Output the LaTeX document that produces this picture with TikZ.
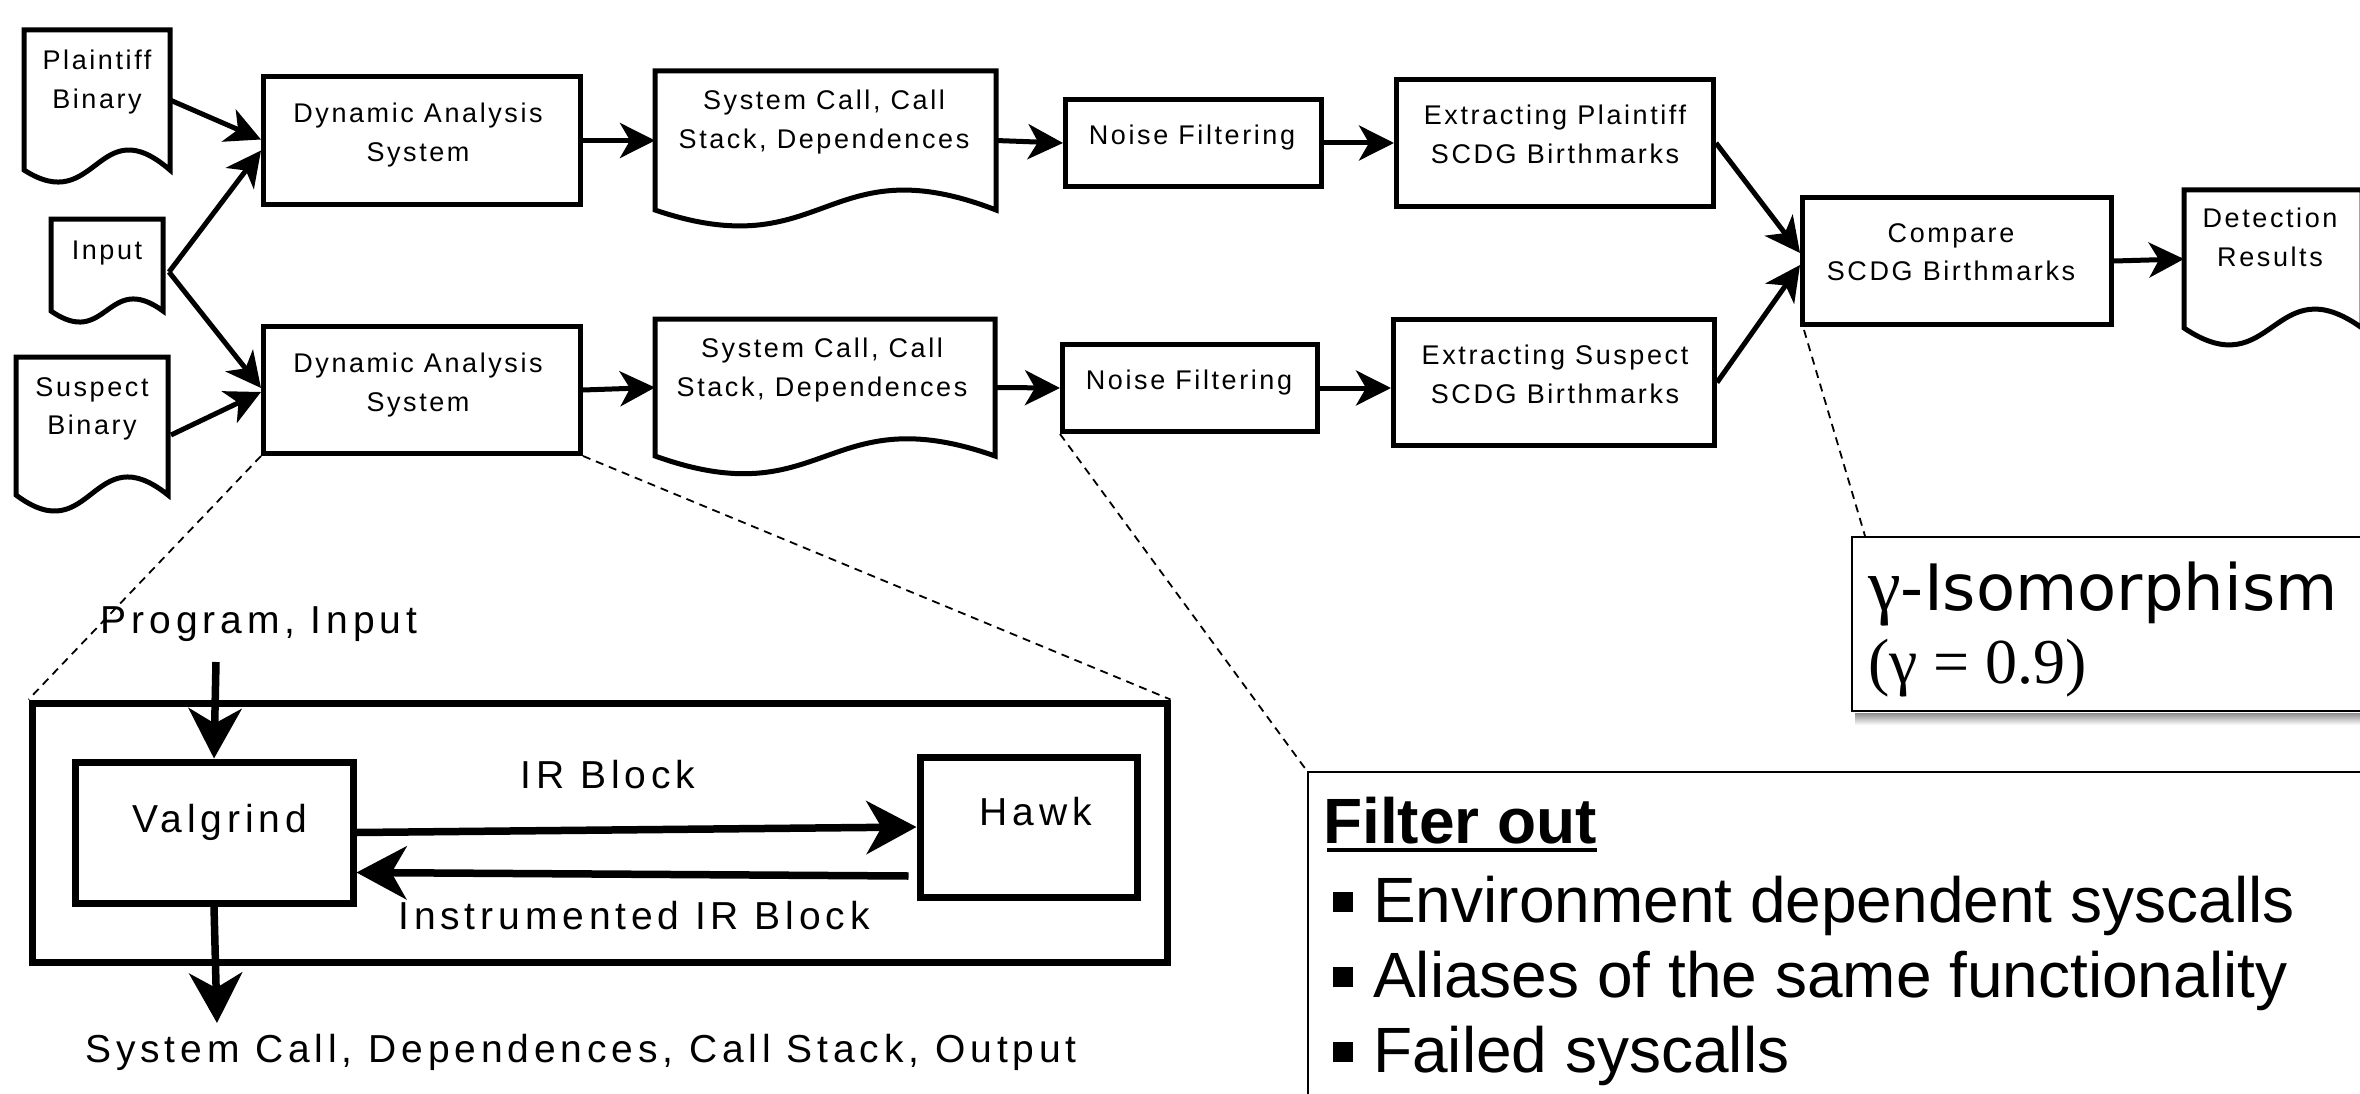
\documentclass[tikz,border=0pt]{standalone}
\usepackage{fontspec}
\setmainfont{Liberation Sans}
\newfontfamily\boxfont[LetterSpace=9.6]{Liberation Sans}
\newfontfamily\lowfont[LetterSpace=12.5]{Liberation Sans}
\newfontfamily\notefont{Liberation Sans}
\newfontfamily\isofont{DejaVu Sans}
\newfontfamily\greekfont{Liberation Serif}
\usetikzlibrary{arrows.meta,calc}

\tikzset{
  boxstyle/.style={draw, line width=5pt, inner sep=0pt},
  docnode/.style={inner sep=0pt, outer sep=0pt},
  docline/.style={draw, line width=5pt, line join=miter},
  boxtext/.style={font=\boxfont\fontsize{27}{38.5}\selectfont, align=center, anchor=north, inner sep=0pt},
  flow/.style={line width=5pt, -{Stealth[length=35pt,width=35pt,inset=10pt]}},
  lowbox/.style={draw, line width=7pt, inner sep=0pt},
  lowtext/.style={font=\lowfont\fontsize{39}{46}\selectfont, anchor=base, inner sep=0pt},
  lowflow/.style={line width=7.5pt, -{Stealth[length=50pt,width=53pt,inset=15pt]}},
  zoomline/.style={line width=1.8pt, dash pattern=on 8pt off 6pt},
  notebox/.style={draw, line width=2pt, fill=white, inner sep=0pt},
  notetext/.style={font=\notefont\fontsize{64}{75}\selectfont, anchor=base west, inner sep=0pt},
}

% outline of a document symbol: straight top and sides, wavy bottom
\newcommand\docoutline[3]{%
  \draw[docline] (#1.north west) -- (#1.north east) -- (#1.south east)
    .. controls ($(#1.south)+(0,#2)$) and ($(#1.south)+(0,#3)$) .. (#1.south west) -- cycle;}
% square list bullet followed by the item indent
\newcommand\sqbullet{\makebox[50pt][l]{\hspace{10pt}\rule[10pt]{20pt}{20pt}}}

\begin{document}
\begin{tikzpicture}[x=1pt, y=-1pt]
\path[use as bounding box, fill=white] (0,0) rectangle (2360,1094);

% ---------- documents ----------
\node[docnode, minimum width=146pt, minimum height=140pt] (pb)  at (97,100) {};
\node[docnode, minimum width=112pt, minimum height=92pt]  (inp) at (107,265) {};
\node[docnode, minimum width=152pt, minimum height=138pt] (sb)  at (92,426) {};
\node[docnode, minimum width=341pt, minimum height=139pt] (sc1) at (825.5,140.5) {};
\node[docnode, minimum width=340pt, minimum height=137pt] (sc2) at (825,387.5) {};
\node[docnode, minimum width=178pt, minimum height=138pt] (det) at (2273,259) {};
\docoutline{pb}{-63}{47}
\docoutline{inp}{-41}{39}
\docoutline{sb}{-61}{57}
\docoutline{sc1}{-66}{58}
\docoutline{sc2}{-60}{61}
\docoutline{det}{-64}{60}

\node[boxtext] (pb-t)  at (97,50)   {Plaintiff\\Binary};
\node[boxtext] (inp-t) at (107,241) {Input};
\node[boxtext] (sb-t)  at (92,377)  {Suspect\\Binary};
\node[boxtext] (sc1-t) at (824,90)  {System Call, Call\\Stack, Dependences};
\node[boxtext] (sc2-t) at (822,338) {System Call, Call\\Stack, Dependences};
\node[boxtext] (det-t) at (2270,208) {Detection\\Results};

% ---------- process boxes ----------
\node[boxstyle, minimum width=317pt, minimum height=128pt] (das1) at (422,140.5) {};
\node[boxstyle, minimum width=317pt, minimum height=127pt] (das2) at (422,390) {};
\node[boxstyle, minimum width=256pt, minimum height=87pt]  (nf1)  at (1193.5,143) {};
\node[boxstyle, minimum width=255pt, minimum height=87pt]  (nf2)  at (1190,388) {};
\node[boxstyle, minimum width=317pt, minimum height=127pt] (ex1)  at (1555,143) {};
\node[boxstyle, minimum width=321pt, minimum height=126pt] (ex2)  at (1554,382.5) {};
\node[boxstyle, minimum width=309pt, minimum height=127pt] (cmp)  at (1957,261) {};

\node[boxtext] (das1-t) at (418,103)  {Dynamic Analysis\\System};
\node[boxtext] (das2-t) at (418,353)  {Dynamic Analysis\\System};
\node[boxtext] (nf1-t)  at (1192,125) {Noise Filtering};
\node[boxtext] (nf2-t)  at (1189,370) {Noise Filtering};
\node[boxtext] (ex1-t)  at (1555,105) {Extracting Plaintiff\\SCDG Birthmarks};
\node[boxtext] (ex2-t)  at (1555,345) {Extracting Suspect\\SCDG Birthmarks};
\node[boxtext] (cmp-t)  at (1951,223) {Compare\\SCDG Birthmarks};

% ---------- pipeline connectors ----------
\draw[flow] (pb.east) -- ($(das1.west)+(0,-1)$);
\draw[flow] ($(inp.east)+(6,7)$) -- ($(das1.west)+(0,10)$);
\draw[flow] ($(inp.east)+(6,7)$) -- ($(das2.west)+(0,-2)$);
\draw[flow] ($(sb.east)+(3,9)$) -- ($(das2.west)+(0,2)$);
\draw[flow] (das1.east) -- (sc1.west);
\draw[flow] (das2.east) -- (sc2.west);
\draw[flow] (sc1.east) -- (nf1.west);
\draw[flow] (sc2.east) -- (nf2.west);
\draw[flow] (nf1.east) -- (ex1.west);
\draw[flow] (nf2.east) -- (nf2.east -| ex2.west);
\draw[flow] (ex1.east) -- ($(cmp.west)+(0,-8)$);
\draw[flow] (ex2.east) -- ($(cmp.west)+(0,4)$);
\draw[flow] (cmp.east) -- (det.west);

% ---------- inside the dynamic analysis system ----------
\node[lowbox, minimum width=1135pt, minimum height=259pt] (sysbox) at (599.5,832.5) {};
\node[lowbox, minimum width=278pt, minimum height=141pt] (valg) at (214,832.5) {};
\node[lowbox, minimum width=217pt, minimum height=140pt] (hawk) at (1028.5,827) {};

\node[lowtext] (valg-t) at (220,832)  {Valgrind};
\node[lowtext] (hawk-t) at (1036,825) {Hawk};
\node[lowtext] (prog)   at (259,633)  {Program, Input};
\node[lowtext] (irb)    at (608,788)  {IR Block};
\node[lowtext] (iirb)   at (634,929)  {Instrumented IR Block};
\node[lowtext] (outlbl) at (581,1062) {System Call, Dependences, Call Stack, Output};

\coordinate (progin) at (216,662);
\coordinate (outtip) at (217,1023);
\draw[lowflow] (progin) -- (valg.north);
\draw[lowflow] (valg.south) -- (outtip);
\draw[lowflow] (valg.east) -- (hawk.west);
\draw[lowflow] ($(hawk.west)+(-8,49)$) -- ($(valg.east)+(0,40)$);

% ---------- notes ----------
\node[notebox, minimum width=528pt, minimum height=174pt] (gam) at (2116,624) {};
\shade[top color=black!45, bottom color=white] ($(gam.south west)+(4,1)$) rectangle ($(gam.south east)+(0,13)$);
\node[notetext] (gam-a) at (1868,610) {{\greekfont\fontsize{74}{75}\selectfont γ}{\isofont -Isomorphism}};
\node[notetext] (gam-b) at (1868,683) {\greekfont (γ = 0.9)};

\node[notebox, minimum width=1072pt, minimum height=343pt] (filt) at (1844,943.5) {};
\node[notetext, font=\notefont\fontsize{64}{75}\selectfont\bfseries] (filt-title) at (1323,843) {Filter out};
\draw[line width=4pt] ($(filt-title.base west)+(4,7)$) -- ($(filt-title.base east)+(0,7)$);
\node[notetext] (filt-a) at (1323,922)  {\sqbullet Environment dependent syscalls};
\node[notetext] (filt-b) at (1323,997)  {\sqbullet Aliases of the same functionality};
\node[notetext] (filt-c) at (1323,1072) {\sqbullet Failed syscalls};

% ---------- zoom guides ----------
\draw[zoomline] (das2.south west) -- (sysbox.north west);
\draw[zoomline] (das2.south east) -- (sysbox.north east);
\draw[zoomline] (nf2.south west) -- (filt.north west);
\draw[zoomline] ($(cmp.south west)+(4,3)$) -- ($(gam.north west)+(14,0)$);
\end{tikzpicture}
\end{document}
